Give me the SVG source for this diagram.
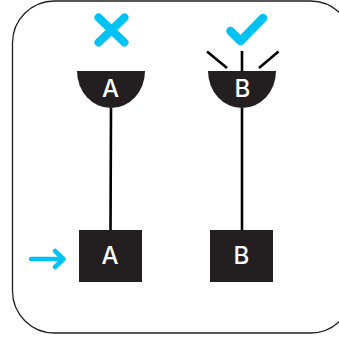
<svg xmlns="http://www.w3.org/2000/svg" width="339" height="345" viewBox="0 0 339 345">
<style>
.d{fill:#231f20}
.l{fill:none;stroke:#000;stroke-width:2.600}
.c{fill:none;stroke:#00c2f3;stroke-linejoin:round}
text{font-family:Inter,"Noto Sans",sans-serif;font-size:24px;font-weight:500;fill:#fff;text-anchor:middle}
</style>
<rect width="339" height="345" fill="#fff"/>
<rect id="frame" x="12.500" y="1" width="340" height="332" rx="42" fill="#fff" stroke="#231f20" stroke-width="1.300"/>
<g id="connectors">
<path class="l" d="M111 108L110.500 231M242 108V231"/>
<path class="l" d="M242 51V72M207 51.500L227 68M278.500 51.500L259 68"/>
</g>
<g id="node-gate-a"><path class="d" d="M77 71H145A34 37 0 0 1 77 71Z"/><text x="110.500" y="97">A</text></g>
<g id="node-gate-b"><path class="d" d="M208 71H276A34 37 0 0 1 208 71Z"/><text x="242.500" y="97">B</text></g>
<g id="node-box-a"><rect class="d" x="79" y="230" width="63" height="52"/><text x="110" y="264">A</text></g>
<g id="node-box-b"><rect class="d" x="210" y="230" width="63" height="52"/><text x="241.500" y="264">B</text></g>
<g id="marks">
<path class="c" stroke-width="8" stroke-linecap="round" d="M98.500 17.500L124.500 42.500M124.500 17.500L98.500 42.500"/>
<path class="c" stroke-width="8.500" stroke-linecap="round" d="M230.500 31L240.500 41L263 18"/>
<path class="c" stroke-width="4.500" stroke-linecap="round" d="M31 259H63.500M55 251L63.500 259L55 267"/>
</g>
</svg>
